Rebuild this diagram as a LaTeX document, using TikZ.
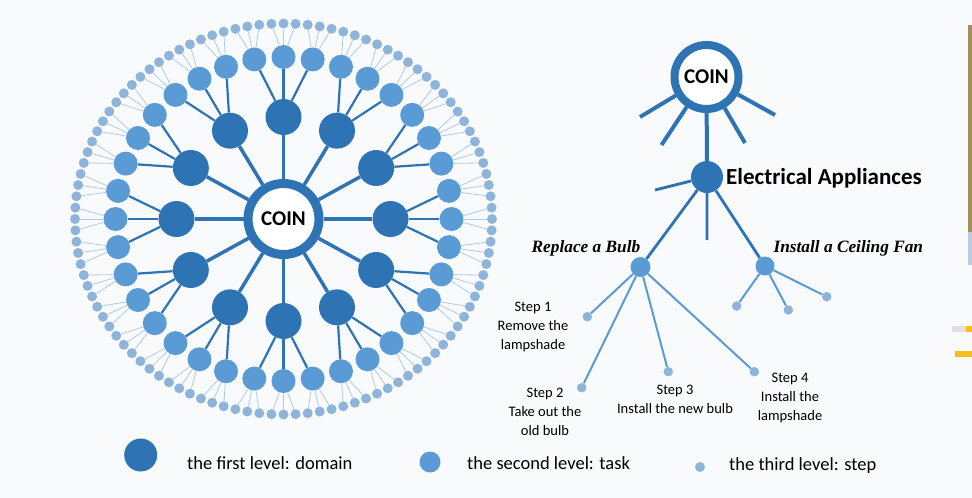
\documentclass[tikz,border=0pt]{standalone}
\usepackage{fontspec}
\setmainfont{Carlito}
\newfontfamily\timesfont{Liberation Serif}
\usepackage{tikz}
\definecolor{domblue}{HTML}{2E74B5}
\definecolor{taskblue}{HTML}{5B9BD5}
\definecolor{stepblue}{HTML}{8EB4DA}
\definecolor{stepline}{HTML}{B2CAE3}
\definecolor{bgwhite}{HTML}{F8FAFC}
\definecolor{photoedge}{HTML}{A48E5C}
\definecolor{photosky}{HTML}{B9CFDD}
\definecolor{baryellow}{HTML}{F5BD1F}

\begin{document}
\begin{tikzpicture}[x=1pt,y=-1pt]
\tikzstyle{every node}+=[inner sep=0pt]
\tikzstyle{coin}=[circle, draw=domblue, fill=white, font=\bfseries\fontsize{21}{21}\selectfont]
\tikzstyle{domnode}=[circle, fill=domblue, minimum size=36pt]
\tikzstyle{tasknode}=[circle, fill=taskblue, minimum size=24pt]
\tikzstyle{stepdot}=[circle, fill=stepblue, minimum size=10pt]
\tikzstyle{steptext}=[align=center, font=\fontsize{14.5}{19}\selectfont]
\tikzstyle{keytext}=[anchor=base west, font=\fontsize{18.5}{20}\selectfont]
\tikzstyle{tasktitle}=[font=\timesfont\bfseries\itshape\fontsize{17.3}{18}\selectfont]
\fill [bgwhite] (0,0) rectangle (972,498);
\useasboundingbox (0,0) rectangle (972,498);
\fill [photoedge] (968,25) rectangle (972,232);
\fill [photosky] (968,232) rectangle (972,265);
\fill [black!12] (952,326) rectangle (966,332);
\fill [baryellow] (966,326) rectangle (972,332);
\fill [baryellow] (955,351) rectangle (972,357);

% wheel
\node [coin, line width=9pt, minimum size=71pt] (hub) at (283.5,219) {COIN};
\foreach \d in {0,...,11} {
  \pgfmathsetmacro\dang{30*\d}
  \path (hub.center) ++(\dang:107 and 102) node [domnode] (d\d) {};
  \draw [domblue, line width=3.5pt] (hub) -- (d\d);
  \foreach \j in {0,1,2} {
    \pgfmathsetmacro\tang{\dang+10*(\j-1)}
    \path (hub.center) ++(\tang:168 and 162) node [tasknode] (t\d\j) {};
    \draw [domblue, line width=2.2pt] (d\d) -- (t\d\j);
    \foreach \s in {0,1,2} {
      \pgfmathsetmacro\sang{\tang+10*(\s-1)/3}
      \path (hub.center) ++(\sang:208.5 and 195.5) node [stepdot] (s\d\j\s) {};
      \draw [stepline, line width=0.8pt] (t\d\j) -- (s\d\j\s);
    }
  }
}

% tree
\node [coin, line width=8pt, minimum size=64pt] (top) at (706.5,77) {COIN};
\coordinate (st1) at (640,117);
\coordinate (st2) at (661.5,145);
\coordinate (st3) at (745,143);
\coordinate (st4) at (775,115);
\foreach \e in {1,...,4}
  \draw [domblue, line width=4pt] (top) -- (st\e);
\node [domnode, minimum size=32pt] (elec) at (707,177) {};
\draw [domblue, line width=4pt] (top) -- (elec);
\node [anchor=west, font=\bfseries\fontsize{23}{24}\selectfont] (eleclabel) at (726,178) {Electrical Appliances};
\coordinate (es1) at (655,190);
\coordinate (es2) at (707,240);
\node [tasknode, minimum size=20pt] (bulb) at (640.5,267) {};
\node [tasknode, minimum size=19pt] (fan) at (765,266) {};
\draw [domblue, line width=2.8pt] (elec) -- (es1) (elec) -- (es2) (elec) -- (bulb) (elec) -- (fan);
\node [tasktitle] (bulblabel) at (586,248) {Replace a Bulb};
\node [tasktitle] (fanlabel) at (848.3,248) {Install a Ceiling Fan};

\node [stepdot, minimum size=9.5pt] (b1) at (587.3,316.7) {};
\node [stepdot, minimum size=9.5pt] (b2) at (581.7,387.7) {};
\node [stepdot, minimum size=9.5pt] (b3) at (668.3,371.7) {};
\node [stepdot, minimum size=9.5pt] (b4) at (754.3,371.7) {};
\node [stepdot, minimum size=9.5pt] (f1) at (736.7,306) {};
\node [stepdot, minimum size=9.5pt] (f2) at (788.3,310) {};
\node [stepdot, minimum size=9.5pt] (f3) at (826.7,296.7) {};
\foreach \b in {1,...,4}
  \draw [taskblue, line width=2pt] (bulb) -- (b\b);
\foreach \f in {1,2,3}
  \draw [taskblue, line width=2pt] (fan) -- (f\f);

\node [steptext] (b1text) at (533,327) {Step 1\\Remove the\\lampshade};
\node [steptext] (b2text) at (545,411.7) {Step 2\\Take out the\\old bulb};
\node [steptext] (b3text) at (675,399) {Step 3\\Install the new bulb};
\node [steptext] (b4text) at (790,398.3) {Step 4\\Install the\\lampshade};

% legend
\node [domnode, minimum size=33pt] (key1) at (140.7,455) {};
\node [keytext] (key1text) at (187,469) {the first level: domain};
\node [tasknode, minimum size=21pt] (key2) at (430,462) {};
\node [keytext] (key2text) at (467,469) {the second level: task};
\node [stepdot] (key3) at (700,467) {};
\node [keytext] (key3text) at (729,470) {the third level: step};
\end{tikzpicture}
\end{document}
